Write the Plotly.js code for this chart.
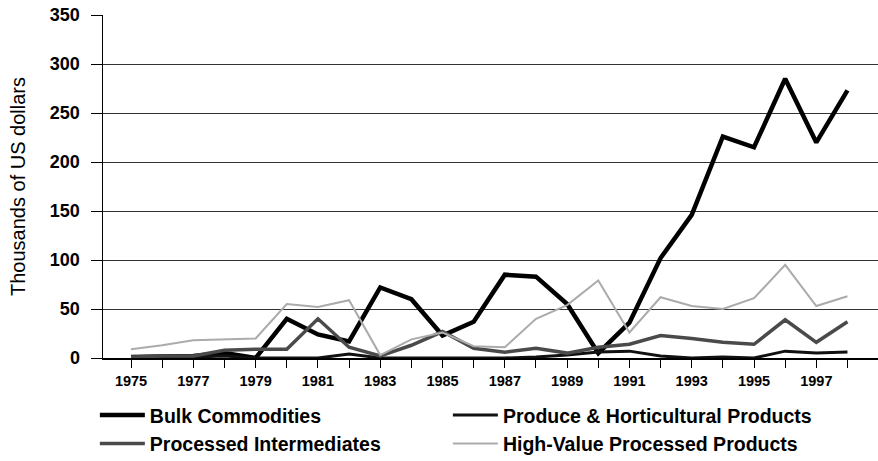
<!DOCTYPE html>
<html>
<head>
<meta charset="utf-8">
<script src="https://cdn.plot.ly/plotly-3.0.1.min.js"></script>
<style>html,body{margin:0;padding:0;background:#fff;}#chart{width:878px;height:461px;}</style>
</head>
<body>
<div id="chart"></div>
<script>
const years = [1975,1976,1977,1978,1979,1980,1981,1982,1983,1984,1985,1986,1987,1988,1989,1990,1991,1992,1993,1994,1995,1996,1997,1998];
const tickLabels = ['1975','','1977','','1979','','1981','','1983','','1985','','1987','','1989','','1991','','1993','','1995','','1997',''];
const bulkCommodities = [1,2,2,5,0,40,24,17,72,60,23,37,85,83,55,5,36,102,146,226,215,285,220,273];
const produceHorticultural = [1,1,1,2,0,0,0,4,0,0,0,0,0,1,3,6,7,2,0,1,0,7,5,6];
const processedIntermediates = [1,2,2,8,9,9,40,11,2,13,27,10,6,10,5,11,14,23,20,16,14,39,16,37];
const highValueProcessed = [9,13,18,19,20,55,52,59,3,19,26,12,11,40,54,79,26,62,53,50,61,95,53,63];
const seriesNames = ['Bulk Commodities','Produce & Horticultural Products','Processed Intermediates','High-Value Processed Products'];

const traces = [
  {x: years, y: bulkCommodities, name: seriesNames[0], mode: 'lines', line: {color: '#000000', width: 4.5}, legend: 'legend'},
  {x: years, y: produceHorticultural, name: seriesNames[1], mode: 'lines', line: {color: '#111111', width: 3}, legend: 'legend2'},
  {x: years, y: processedIntermediates, name: seriesNames[2], mode: 'lines', line: {color: '#4a4a4a', width: 3.5}, legend: 'legend'},
  {x: years, y: highValueProcessed, name: seriesNames[3], mode: 'lines', line: {color: '#ababab', width: 2}, legend: 'legend2'}
];

const legendFont = {size: 19.5, family: 'Arial, Liberation Sans, sans-serif', weight: 'bold', color: '#000'};

const layout = {
  width: 878, height: 461,
  margin: {l: 103, r: 0, t: 15, b: 102.5, autoexpand: false},
  paper_bgcolor: '#ffffff', plot_bgcolor: '#ffffff',
  font: {family: 'Arial, Liberation Sans, sans-serif', color: '#000'},
  showlegend: true,
  legend: {
    orientation: 'v', x: -0.0105, xanchor: 'left', y: -0.1106, yanchor: 'top',
    font: legendFont, itemwidth: 45, traceorder: 'normal', bgcolor: 'rgba(0,0,0,0)'
  },
  legend2: {
    orientation: 'v', x: 0.445, xanchor: 'left', y: -0.1106, yanchor: 'top',
    font: legendFont, itemwidth: 45, traceorder: 'normal', bgcolor: 'rgba(0,0,0,0)'
  },
  xaxis: {
    range: [1974.1, 1998.98], tickmode: 'array', tickvals: years, ticktext: tickLabels,
    ticks: 'outside', ticklen: 8, tickcolor: '#000', tickwidth: 1,
    showline: true, linecolor: '#000', linewidth: 1.5, showgrid: false, zeroline: false,
    tickfont: {size: 14.5, weight: 'bold', color: '#000'}, ticklabelstandoff: 1
  },
  yaxis: {
    range: [0, 350], dtick: 50, tick0: 0,
    ticks: 'outside', ticklen: 11, tickcolor: '#000', tickwidth: 1,
    showline: true, linecolor: '#000', linewidth: 1.5,
    showgrid: true, gridcolor: '#333', gridwidth: 1, zeroline: false,
    tickfont: {size: 18, weight: 'bold', color: '#000'}, ticklabelstandoff: 7,
    title: {text: 'Thousands of US dollars', font: {size: 20, color: '#000'}, standoff: 19}
  }
};

Plotly.newPlot('chart', traces, layout, {displayModeBar: false, staticPlot: true});
</script>
</body>
</html>
